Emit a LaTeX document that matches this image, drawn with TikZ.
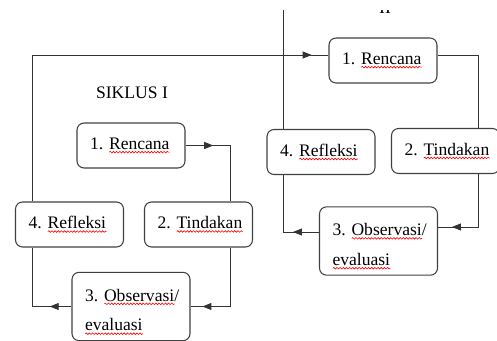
\documentclass[tikz,border=0pt]{standalone}
\usepackage{fontspec}
\setmainfont{Liberation Serif}
\usetikzlibrary{arrows.meta,positioning,decorations.markings,decorations.pathmorphing}

% red spell-check underline
\newcommand{\sperr}[1]{\setbox0\hbox{#1}\rlap{\tikz[baseline=0pt,x=1cm,y=1cm]
  \draw[red,line width=0.35pt,sharp corners,decorate,
    decoration={snake,amplitude=0.45pt,segment length=1.8pt}] (0,-1.6pt) -- (\wd0,-1.6pt);}\box0}

\begin{document}
\begin{tikzpicture}[x=0.02cm,y=-0.02cm,
  box/.style={draw=black!75,line width=0.6pt,rounded corners=4pt,align=left,text width=1.64cm,
    inner xsep=0.26cm,minimum height=0.9cm,font=\fontsize{10}{12}\selectfont\frenchspacing},
  obs/.style={box,text width=1.84cm,minimum height=1.34cm,font=\fontsize{10}{17}\selectfont\frenchspacing},
  ln/.style={black!80,line width=0.5pt},
  mid/.style={postaction={decorate},decoration={markings,
    mark=at position #1 with {\arrow{Triangle[length=1.8mm,width=1.4mm]}}}}]
\useasboundingbox (0,0) rectangle (497,341);
\begin{scope}
\clip (0,11) rectangle (497,341);
% siklus I
\node[font=\fontsize{10}{12}\selectfont] (s1) at (132,93) {SIKLUS I};
\node[box] (a1) at (131,145.5) {\mbox{1. \sperr{Rencana}}};
\node[box] (a2) at (198.5,224.5) {\mbox{2. \sperr{Tindakan}}};
\node[box] (a4) at (69.5,224.5) {\mbox{4. \sperr{Refleksi}}};
\node[obs] (a3) at (131,306.5) {\mbox{\rule{0pt}{13pt}3. \sperr{Observasi}/}\\\mbox{\sperr{evaluasi}}};
% siklus II
\node[font=\fontsize{10}{12}\selectfont,anchor=base] (s2) at (385,14) {II};
\node[box] (b1) at (383,60.5) {\mbox{1. \sperr{Rencana}}};
\node[box] (b4) at (321,152) {\mbox{4. \sperr{Refleksi}}};
\node[box] (b2) at (445.5,151) {\mbox{2. \sperr{Tindakan}}};
\node[obs] (b3) at (378.5,241) {\mbox{\rule{0pt}{13pt}3. \sperr{Observasi}/}\\\mbox{\sperr{evaluasi}}};
% corners
\coordinate (k1) at (230,145.5);
\coordinate (k2) at (230,306.5);
\coordinate (k3) at (32,306.5);
\coordinate (k4) at (32,55);
\coordinate (k5) at (478,55);
\coordinate (k6) at (478,227);
\coordinate (k7) at (283,232);
\coordinate (top) at (283,0);
% connectors
\draw[ln,mid=0.276] (a1) -- (k1) -- (k1 |- a2.north);
\draw[ln,mid=0.879] (k2 |- a2.south) -- (k2) -- (a3);
\draw[ln,mid=0.221] (a3) -- (k3) -- (k3 |- a4.south);
\draw[ln,mid=0.962] (k4 |- a4.north) -- (k4) -- (k4 -| b1.west);
\draw[ln] (k5 -| b1.east) -- (k5) -- (k5 |- b2.north);
\draw[ln,mid=0.85] (k6 |- b2.south) -- (k6) -- (k6 -| b3.east);
\draw[ln,mid=0.28] (k7 -| b3.west) -- (k7) -- (k7 |- b4.south);
\draw[ln] (top) -- (top |- b4.north);
\end{scope}
\end{tikzpicture}
\end{document}
